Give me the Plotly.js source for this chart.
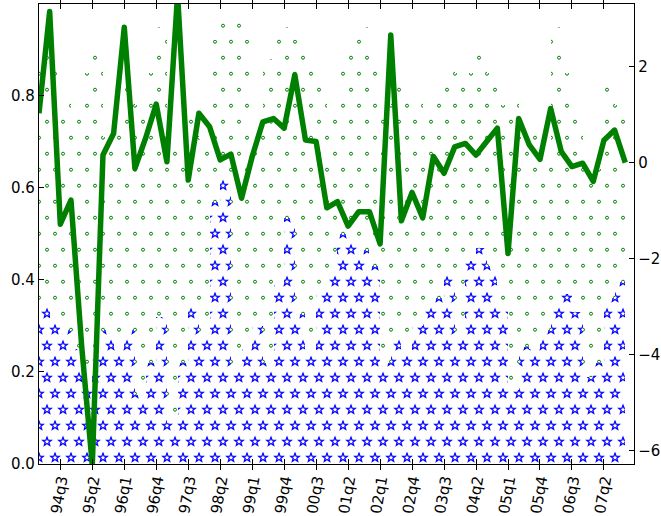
<!DOCTYPE html>
<html><head><meta charset="utf-8">
<script src="https://cdn.plot.ly/plotly-3.0.1.min.js"></script>
<style>
html,body{margin:0;padding:0;background:#fff}
#chart{width:661px;height:516px}
#chart .js-line{stroke-linejoin:round}
</style>
</head><body><div id="chart"></div>
<script>
const quarters = ['94q1','94q2','94q3','94q4','95q1','95q2','95q3','95q4','96q1','96q2','96q3','96q4',
  '97q1','97q2','97q3','97q4','98q1','98q2','98q3','98q4','99q1','99q2','99q3','99q4',
  '00q1','00q2','00q3','00q4','01q1','01q2','01q3','01q4','02q1','02q2','02q3','02q4',
  '03q1','03q2','03q3','03q4','04q1','04q2','04q3','04q4','05q1','05q2','05q3','05q4',
  '06q1','06q2','06q3','06q4','07q1','07q2','07q3','07q4'];

// secondary-axis line (right scale)
const lineValues = [1.03,3.15,-1.28,-0.78,-3.81,-6.3,0.16,0.61,2.82,-0.12,0.51,1.22,0.02,3.5,-0.36,1.03,
  0.75,0.06,0.18,-0.74,0.13,0.85,0.92,0.72,1.83,0.47,0.44,-0.94,-0.81,-1.32,-1.02,-1.02,-1.69,2.66,
  -1.21,-0.62,-1.15,0.13,-0.22,0.33,0.40,0.16,0.44,0.72,-1.89,0.92,0.37,0.07,1.13,0.23,-0.08,-0.01,
  -0.39,0.47,0.68,0.0];

// stacked bars (left scale): lower series (stars) and upper series (circles)
const starValues = [0.345,0.31,0.29,0.25,0.17,0.244,0.29,0.25,0.29,0.15,0.22,0.32,0.09,0.22,0.345,0.28,
  0.57,0.62,0.20,0.25,0.30,0.22,0.39,0.535,0.325,0.24,0.38,0.41,0.50,0.48,0.465,0.43,0.22,0.28,0.24,
  0.30,0.35,0.36,0.41,0.27,0.44,0.47,0.43,0.35,0.16,0.255,0.25,0.29,0.34,0.37,0.33,0.19,0.22,0.36,0.395];
const circleValues = [0.545,0.56,0.50,0.50,0.68,0.646,0.42,0.495,0.55,0.63,0.63,0.63,0.60,0.45,0.425,0.425,
  0.35,0.345,0.76,0.67,0.43,0.66,0.555,0.415,0.595,0.64,0.46,0.36,0.36,0.44,0.485,0.45,0.56,0.56,0.57,
  0.50,0.41,0.46,0.46,0.58,0.41,0.43,0.42,0.43,0.64,0.455,0.48,0.36,0.61,0.48,0.42,0.45,0.42,0.48,0.385];

const leftTicks = [0, 0.2, 0.4, 0.6, 0.8];
const leftTickText = ['0.0','0.2','0.4','0.6','0.8'];
const rightTicks = [-6, -4, -2, 0, 2];

const lineX = quarters.map((q, i) => i);
const barX = starValues.map((v, i) => i + 0.5);
const tickIdx = lineX.filter(i => i % 3 === 2);
const tickText = tickIdx.map(i => quarters[i]);

const FONT = {family: 'DejaVu Sans', size: 15, color: '#000'};

const traces = [
  {type: 'bar', x: barX, y: starValues, width: 1, yaxis: 'y', xaxis: 'x',
   marker: {color: '#fff', line: {width: 0},
            pattern: {shape: '.', fgcolor: '#0000ff', bgcolor: '#ffffff', size: 16, solidity: 0.05, fillmode: 'replace'}},
   hoverinfo: 'skip'},
  {type: 'bar', x: barX, y: circleValues, width: 1, yaxis: 'y', xaxis: 'x',
   marker: {color: '#fff', line: {width: 0},
            pattern: {shape: '.', fgcolor: '#008000', bgcolor: '#ffffff', size: 16, solidity: 0.04, fillmode: 'replace'}},
   hoverinfo: 'skip'},
  {type: 'scatter', mode: 'lines', x: lineX, y: lineValues, yaxis: 'y2', xaxis: 'x',
   line: {color: '#008000', width: 5.5}, hoverinfo: 'skip'}
];

const layout = {
  width: 661, height: 516,
  margin: {l: 39, r: 27, t: 4, b: 52, pad: 0},
  paper_bgcolor: '#fff', plot_bgcolor: '#fff',
  showlegend: false, barmode: 'stack', bargap: 0,
  font: FONT,
  xaxis: {range: [0, 55.82], tickmode: 'array', tickvals: tickIdx, ticktext: tickText,
          tickangle: -80, ticks: 'inside', ticklen: 5, tickwidth: 1, tickcolor: '#000',
          showline: true, linecolor: '#000', linewidth: 1.2, mirror: 'allticks',
          showgrid: false, zeroline: false, tickfont: FONT},
  yaxis: {range: [0, 0.999], tickmode: 'array', tickvals: leftTicks, ticktext: leftTickText,
          ticks: 'inside', ticklen: 5, tickwidth: 1, tickcolor: '#000',
          showline: true, linecolor: '#000', linewidth: 1.2, showgrid: false, zeroline: false,
          tickfont: FONT},
  yaxis2: {range: [-6.277, 3.306], overlaying: 'y', side: 'right', tickmode: 'array',
           tickvals: rightTicks, ticks: 'inside', ticklen: 5, tickwidth: 1, tickcolor: '#000',
           showline: true, linecolor: '#000', linewidth: 1.2, showgrid: false, zeroline: false,
           tickfont: FONT}
};

const NS = 'http://www.w3.org/2000/svg';
function starPath(cx, cy, R, r) {
  let d = '';
  for (let k = 0; k < 10; k++) {
    const rad = (k % 2 === 0) ? R : r;
    const a = -Math.PI / 2 + k * Math.PI / 5;
    d += (k === 0 ? 'M' : 'L') + (cx + rad * Math.cos(a)).toFixed(2) + ',' + (cy + rad * Math.sin(a)).toFixed(2);
  }
  return d + 'Z';
}
function restylePatterns() {
  document.querySelectorAll('#chart pattern').forEach(p => {
    const html = p.innerHTML;
    const isStar = /0,\s*0,\s*255|#0000ff|blue/i.test(html);
    while (p.firstChild) p.removeChild(p.firstChild);
    p.setAttribute('patternUnits', 'userSpaceOnUse');
    p.setAttribute('width', 16);
    p.setAttribute('height', 32);
    const rect = document.createElementNS(NS, 'rect');
    rect.setAttribute('width', 16); rect.setAttribute('height', 32); rect.setAttribute('fill', '#fff');
    p.appendChild(rect);
    const pts = [[0, 5.7], [16, 5.7], [8, 21.7]];
    pts.forEach(([cx, cy]) => {
      let el;
      if (isStar) {
        el = document.createElementNS(NS, 'path');
        el.setAttribute('d', starPath(cx, cy, 4.5, 1.9));
        el.setAttribute('stroke', '#0000ff');
        el.setAttribute('stroke-width', '1.25');
        el.setAttribute('stroke-linejoin', 'miter');
      } else {
        el = document.createElementNS(NS, 'circle');
        el.setAttribute('cx', cx); el.setAttribute('cy', cy); el.setAttribute('r', 1.5);
        el.setAttribute('stroke', '#008000');
        el.setAttribute('stroke-width', '1');
      }
      el.setAttribute('fill', 'none');
      p.appendChild(el);
    });
  });
}

Plotly.newPlot('chart', traces, layout, {staticPlot: true, displayModeBar: false}).then(restylePatterns);
</script>
</body></html>
